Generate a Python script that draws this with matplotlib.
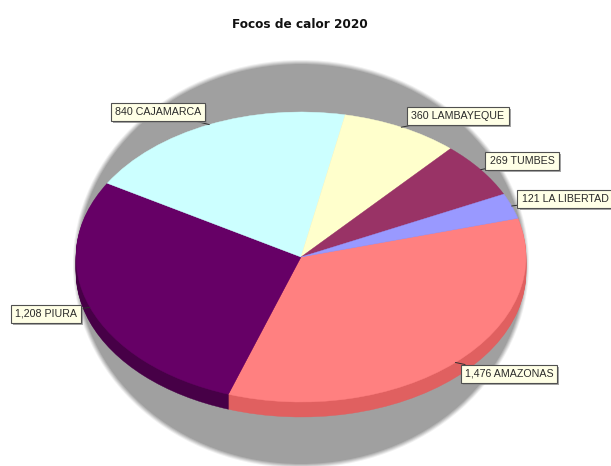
#!/usr/bin/env python3
# -*- coding: utf-8 -*-
import numpy as np
from matplotlib import pyplot as plt
from matplotlib import patheffects as pe
from matplotlib.patches import Ellipse

departments = ['AMAZONAS', 'PIURA', 'CAJAMARCA', 'LAMBAYEQUE', 'TUMBES', 'LA LIBERTAD']
focos = [1476, 1208, 840, 360, 269, 121]
top_colors = ['#ff8080', '#660066', '#ccffff', '#ffffcc', '#993366', '#9999ff']
side_colors = ['#e06060', '#470047', '#a0c8c8', '#c8c8a0', '#702550', '#7070c0']
title = 'Focos de calor 2020'

# label box centres in pixels, measured from the top left
label_pos = [(509, 374), (46, 314), (158, 112), (458, 116), (522, 161), (565, 199)]

W, H = 611, 466
CX, CY, RX, RY = 301, 257, 225, 145
DEPTH = 15
START = 15.5

plt.rcParams['font.family'] = ['Liberation Sans', 'DejaVu Sans']

fig = plt.figure(figsize=(W / 100, H / 100), dpi=100)
ax = fig.add_axes([0, 0, 1, 1])

# the pie lives in unit coords, axes limits squash it into an ellipse
xlim = ((0 - CX) / RX, (W - CX) / RX)
ylim = ((CY - H) / RY, CY / RY)

# drop shadow behind the pie, edge slightly soft
shadow_y = (257 - 264) / RY
for grow, col in zip([3, 2, 1, 0, -1], ['#f0f0f0', '#dcdcdc', '#c8c8c8', '#b4b4b4', '#a0a0a0']):
    ax.add_patch(Ellipse((0, shadow_y), 2 * (RX + grow) / RX, 2 * (201 + grow) / RY,
                         fc=col, ec='none', zorder=0))


def draw_pie(colors, yoff):
    wdg, _ = ax.pie(focos, colors=colors, startangle=START, counterclock=False,
                    center=(0, yoff))
    # thin outline in the slice colour closes the seams between slices
    for w in wdg:
        w.set_edgecolor(w.get_facecolor())
        w.set_linewidth(0.3)
    return wdg


# side of the pie: stacked copies going down
for off in range(DEPTH, 0, -1):
    draw_pie(side_colors, -off / RY)

wedges = draw_pie(top_colors, 0)

ax.set_aspect('auto')
ax.set_xlim(xlim)
ax.set_ylim(ylim)
ax.axis('off')

for w, name, val, pos in zip(wedges, departments, focos, label_pos):
    mid = np.deg2rad((w.theta1 + w.theta2) / 2)
    txt = ax.annotate('{:,} {}'.format(val, name),
                      xy=(np.cos(mid), np.sin(mid)), xycoords='data',
                      xytext=(pos[0], H - pos[1]), textcoords='figure pixels',
                      ha='center', va='center', fontsize=7.7, color='#2a2a2a',
                      bbox={'boxstyle': 'square,pad=0.38', 'fc': '#ffffe6', 'ec': '#505050', 'lw': 0.8},
                      arrowprops={'arrowstyle': '-', 'color': '#303030', 'lw': 0.7,
                                  'shrinkA': 0, 'shrinkB': 0},
                      zorder=5)
    txt.get_bbox_patch().set_path_effects([
        pe.SimplePatchShadow(offset=(1.5, -1.5), shadow_rgbFace='#909090', alpha=0.8), pe.Normal()])

fig.text(300 / W, 1 - 24 / H, title, ha='center', va='center', fontsize=8.7,
         fontweight='bold', family='DejaVu Sans', color='#111111')

plt.savefig('out.png', dpi=100)
plt.close()
